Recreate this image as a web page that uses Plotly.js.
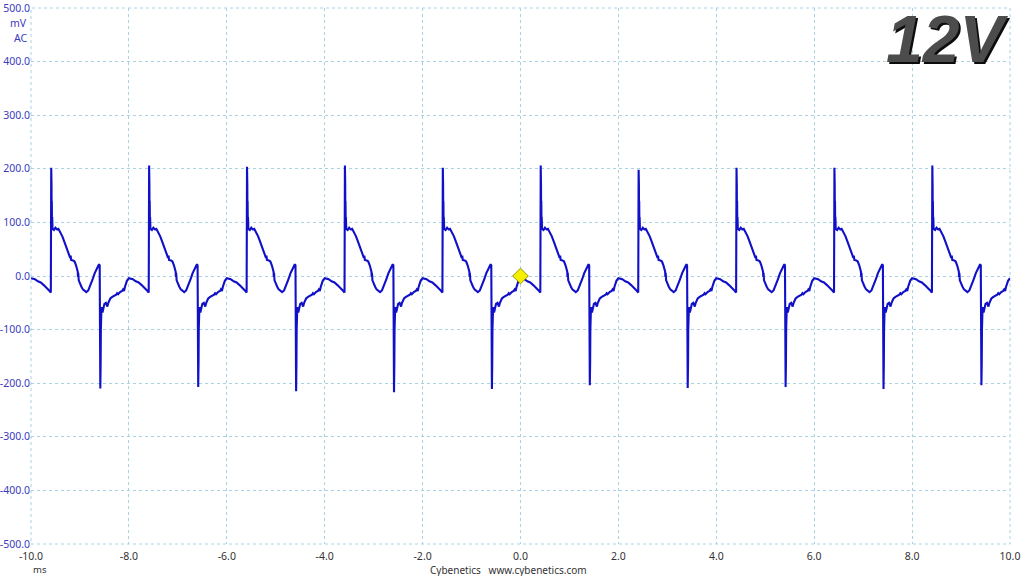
<!DOCTYPE html>
<html>
<head>
<meta charset="utf-8">
<script src="https://cdn.plot.ly/plotly-3.0.1.min.js"></script>
<style>
  html, body { margin: 0; padding: 0; background: #fff; }
  #chart { width: 1024px; height: 576px; }
</style>
</head>
<body>
<div id="chart"></div>
<script>
"use strict";

// Start of each 2 ms ripple cycle (ms)
const cycleStartMs = [-10, -8, -6, -4, -2, 0, 2, 4, 6, 8];

// Time offsets inside one cycle (ms) and the trace (mV)
const phaseMs = [
  0.00, 0.04, 0.08, 0.14, 0.20, 0.26, 0.32, 0.36, 0.405, 0.409,
  0.411, 0.413, 0.416, 0.419, 0.422, 0.425, 0.429, 0.433, 0.44, 0.47,
  0.50, 0.53, 0.56, 0.60, 0.64, 0.68, 0.72, 0.75, 0.78, 0.80,
  0.81, 0.82, 0.86, 0.89, 0.92, 0.94, 0.955, 0.96, 0.965, 0.975,
  0.99, 1.03, 1.06, 1.10, 1.13, 1.17, 1.22, 1.26, 1.30, 1.34,
  1.37, 1.39, 1.403, 1.407, 1.410, 1.413, 1.416, 1.419, 1.423, 1.427,
  1.432, 1.44, 1.46, 1.47, 1.50, 1.53, 1.56, 1.58, 1.62, 1.66,
  1.70, 1.74, 1.76, 1.78, 1.82, 1.86, 1.88, 1.90, 1.92, 1.93,
  1.96, 2.00,
];
const shapeMv = [
  -4, -5, -6, -10, -12, -17, -22, -26, -31, 30,
  10, 200, 120, 170, 100, 140, 95, 110, 88, 86,
  90, 87, 88, 82, 74, 64, 55, 46, 38, 34,
  38, 30, 29, 27, 20, 14, 8, -2, 6, -8,
  -12, -20, -25, -29, -30, -27, -17, -6, 5, 14,
  20, 22, 20, -40, -110, -70, -210, -130, -160, -100,
  -75, -58, -68, -62, -52, -50, -57, -50, -42, -39,
  -37, -35, -32, -34, -30, -28, -25, -28, -20, -16,
  -9, -4,
];
const POS_IDX = 11;
const NEG_IDX = 56;

// Spike extremes of each cycle
const posPeakMv = [202, 206, 204, 206, 202, 206, 198, 202, 202, 206];
const negPeakMv = [-210, -207, -215, -217, -211, -204, -209, -207, -211, -204];

// Trigger marker
const triggerMs = [0];
const triggerMv = [0];

// Axis ticks
const xTickVals = [-10, -8, -6, -4, -2, 0, 2, 4, 6, 8, 10];
const xTickText = ["-10.0", "-8.0", "-6.0", "-4.0", "-2.0", "0.0", "2.0", "4.0", "6.0", "8.0", "10.0"];
const yTickVals = [-500, -400, -300, -200, -100, 0, 100, 200, 300, 400, 500];
const yTickText = ["-500.0", "-400.0", "-300.0", "-200.0", "-100.0", "0.0", "100.0", "200.0", "300.0", "400.0", "500.0"];

const FONT = "'Noto Sans', 'DejaVu Sans', sans-serif";
const GRID = "#a9d2e2";

function buildTrace() {
  const x = [];
  const y = [];
  cycleStartMs.forEach((start, k) => {
    phaseMs.forEach((p, j) => {
      x.push(start + p);
      if (j === POS_IDX) y.push(posPeakMv[k]);
      else if (j === NEG_IDX) y.push(negPeakMv[k]);
      else y.push(shapeMv[j]);
    });
  });
  return { x, y };
}

const wave = buildTrace();

const traces = [
  {
    type: "scatter",
    mode: "lines",
    x: wave.x,
    y: wave.y,
    line: { color: "#1010c8", width: 2.1 },
    hoverinfo: "skip",
  },
  {
    type: "scatter",
    mode: "markers",
    x: triggerMs,
    y: triggerMv,
    marker: {
      symbol: "diamond",
      size: 12,
      color: "#f4f000",
      line: { color: "#9a9400", width: 1 },
    },
    hoverinfo: "skip",
  },
];

const layout = {
  width: 1024,
  height: 576,
  paper_bgcolor: "#ffffff",
  plot_bgcolor: "#ffffff",
  showlegend: false,
  margin: { l: 31, r: 14, t: 8, b: 32 },
  font: { family: FONT, size: 10.5, color: "#333" },
  xaxis: {
    range: [-10, 10],
    tickvals: xTickVals,
    ticktext: xTickText,
    showgrid: true,
    gridcolor: GRID,
    griddash: "dot",
    gridwidth: 1,
    zeroline: false,
    showline: false,
    ticks: "",
    ticklabelstandoff: 4,
    tickfont: { family: FONT, size: 10.5, color: "#333" },
  },
  yaxis: {
    range: [-500, 500],
    tickvals: yTickVals,
    ticktext: yTickText,
    showgrid: true,
    gridcolor: GRID,
    griddash: "dot",
    gridwidth: 1,
    zeroline: false,
    showline: false,
    ticks: "",
    tickfont: { family: FONT, size: 10.5, color: "#3a3ac0" },
  },
  shapes: [
    // plot frame drawn in the same dotted grid style
    { type: "rect", xref: "paper", yref: "paper", x0: 0, x1: 1, y0: 0, y1: 1,
      line: { color: GRID, width: 1, dash: "dot" }, layer: "below" },
  ],
  annotations: [
    { xref: "paper", yref: "paper", x: 0, y: 1, xanchor: "right", yanchor: "top",
      xshift: -2, yshift: -6, text: "mV", showarrow: false,
      font: { family: FONT, size: 10.5, color: "#3a3ac0" } },
    { xref: "paper", yref: "paper", x: 0, y: 1, xanchor: "right", yanchor: "top",
      xshift: -2, yshift: -21, text: "AC", showarrow: false,
      font: { family: FONT, size: 10.5, color: "#3a3ac0" } },
    { xref: "paper", yref: "paper", x: 0, y: 0, xanchor: "left", yanchor: "top",
      xshift: 0, yshift: -17, text: "ms", showarrow: false,
      font: { family: FONT, size: 9.5, color: "#333" } },
    { xref: "paper", yref: "paper", x: 0.5, y: 0, xanchor: "center", yanchor: "top",
      xshift: -12, yshift: -17, text: "Cybenetics&nbsp;&nbsp;&nbsp;www.cybenetics.com",
      showarrow: false, font: { family: FONT, size: 10, color: "#333" } },
    // "12V" badge: dark shadow layer then face
    { xref: "paper", yref: "paper", x: 1, y: 1, xanchor: "right", yanchor: "top",
      xshift: 1, yshift: 5, borderpad: 0, text: "<b><i>12V</i></b>", showarrow: false,
      font: { family: "'Liberation Sans', Arial, sans-serif", size: 66, color: "#0c0c0c" } },
    { xref: "paper", yref: "paper", x: 1, y: 1, xanchor: "right", yanchor: "top",
      xshift: -1, yshift: 7, borderpad: 0, text: "<b><i>12V</i></b>", showarrow: false,
      font: { family: "'Liberation Sans', Arial, sans-serif", size: 66, color: "#4c4c4c" } },
  ],
};

Plotly.newPlot("chart", traces, layout, { displayModeBar: false, staticPlot: true });
</script>
</body>
</html>
